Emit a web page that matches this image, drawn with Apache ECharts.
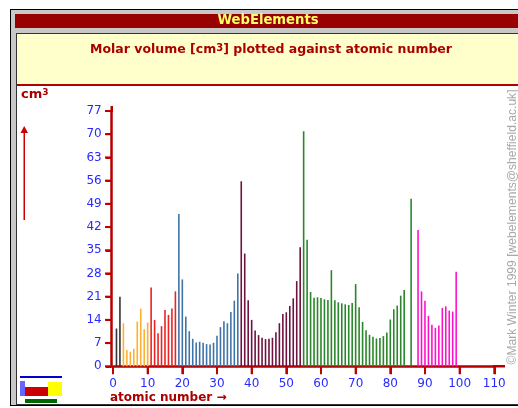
<!DOCTYPE html>
<html><head><meta charset="utf-8">
<style>html,body{margin:0;padding:0;background:#fff}#c{width:518px;height:408px}</style>
<script src="https://cdn.jsdelivr.net/npm/echarts@6/dist/echarts.min.js"></script>
</head><body><div id="c"></div>
<script>
const xTicks = [0,10,20,30,40,50,60,70,80,90,100,110];
const yTicks = [0,7,14,21,28,35,42,49,56,63,70,77];
const h_he = [11.4,21.0];
const period2 = [13.0,4.9,4.4,5.3,13.5,17.4,11.2,13.2];
const period3 = [23.8,14.0,10.0,12.1,17.0,15.5,17.4,22.6];
const period4 = [45.9,26.2,15.0,10.6,8.3,7.2,7.4,7.1,6.7,6.6,7.1,9.2,11.8,13.6,13.0,16.4,19.8,28.0];
const period5 = [55.8,34.0,19.9,14.0,10.8,9.4,8.6,8.2,8.3,8.6,10.3,13.0,15.8,16.3,18.2,20.5,25.7,35.9];
const period6 = [70.9,38.2,22.4,20.7,20.8,20.6,20.2,20.0,29.0,19.9,19.3,19.0,18.7,18.5,19.1,24.8,17.8,13.4,10.9,9.5,8.9,8.4,8.5,9.1,10.2,14.1,17.2,18.3,21.3,23.0,null,50.5];
const period7 = [null,41.1,22.6,19.8,15.2,12.5,11.6,12.3,17.6,18.1,16.8,16.5,28.5];
const groups = [
  {values:h_he,color:'#333333'},{values:period2,color:'#ffb030'},{values:period3,color:'#ee2222'},
  {values:period4,color:'#3f74a8'},{values:period5,color:'#6e1240'},{values:period6,color:'#2a862a'},{values:period7,color:'#ff11cc'}
];
const RED='#aa0000', BR='#b30000', BLUE='#2a2aff';
const data=[]; let z=1;
groups.forEach(g=>g.values.forEach(v=>{ if(v!==null) data.push({value:[z,v],itemStyle:{color:g.color}}); z++; }));
const chart=echarts.init(document.getElementById('c'),null,{renderer:'canvas'});
const rect=(x,y,w,h,fill,z2)=>({type:'rect',shape:{x,y,width:w,height:h},style:{fill},z:z2||0,silent:true});
const base=[
    rect(10,9,508,397,'#000000',-9),
    rect(11,10,507,395,'#c8c8c8',-8),
    rect(15,14,503,14,'#990000',-7),
    rect(16,33,502,372,'#333333',-7),
    rect(17,34,501,370,'#ffffff',-6),
    rect(17,34,501,50,'#ffffcc',-5),
    rect(17,84,501,2,'#b30000',-4),
    rect(110.5,106,2.5,6,BR,1),
    rect(493,365,12,2.5,BR,1),
    {type:'text',x:268,y:21,style:{text:'WebElements',fill:'#ffff66',font:'bold 13.2px "DejaVu Sans"',align:'center',verticalAlign:'middle'}},
    {type:'text',x:271,y:50,style:{text:'Molar volume [cm{s|3}] plotted against atomic number',fill:RED,font:'bold 12.5px "DejaVu Sans"',align:'center',verticalAlign:'middle',
      rich:{s:{fontSize:10,fontWeight:'bold',fontFamily:'DejaVu Sans',fill:RED,verticalAlign:'top',lineHeight:12}}}},
    {type:'text',x:21,y:95,style:{text:'cm{s|3}',fill:RED,font:'bold 13px "DejaVu Sans"',verticalAlign:'middle',
      rich:{s:{fontSize:9,fontWeight:'bold',fontFamily:'DejaVu Sans',fill:RED,verticalAlign:'top',lineHeight:12}}}},
    {type:'text',x:110,y:398,style:{text:'atomic number →',fill:RED,font:'bold 12px "DejaVu Sans"',verticalAlign:'middle'}},
    {type:'text',x:513,y:227,rotation:Math.PI/2,style:{text:'©Mark Winter 1999 [webelements@sheffield.ac.uk]',fill:'#a8a8a8',font:'12.1px "Liberation Sans"',align:'center',verticalAlign:'middle'}},
    rect(23.5,130,1.5,90,'#cc0000',1),
    {type:'polygon',shape:{points:[[24.2,126],[20.5,133],[28,133]]},style:{fill:'#cc0000'},silent:true},
    rect(20,376,42,2,'#0000cc',1),
    rect(20,381,5,15,'#6666ff',1),
    rect(25,387,23,9,'#cc0000',1),
    rect(48,382,14,14,'#ffff00',1),
    rect(25,399,32,4,'#006600',1)
];
chart.setOption({
  animation:false,backgroundColor:'#ffffff',
  grid:{left:113,right:23.7,top:111,bottom:41.7,containLabel:false},
  xAxis:{type:'value',min:xTicks[0],max:xTicks[xTicks.length-1],interval:10,
    axisLine:{onZero:false,lineStyle:{color:BR,width:2.5}},
    axisTick:{show:true,length:8,lineStyle:{color:'#c00000',width:2}},
    axisLabel:{color:BLUE,fontFamily:'DejaVu Sans',fontSize:12,margin:12},
    splitLine:{show:false}},
  yAxis:{type:'value',min:yTicks[0],max:yTicks[yTicks.length-1],interval:7,offset:1.3,
    axisLine:{show:true,onZero:false,lineStyle:{color:BR,width:2.5}},
    axisTick:{show:true,length:6,lineStyle:{color:'#c00000',width:2}},
    axisLabel:{color:BLUE,fontFamily:'DejaVu Sans',fontSize:12,margin:10},
    splitLine:{show:false}},
  series:[{type:'bar',data,barWidth:1.6,animation:false}],
  graphic:base
});
const tickMarks=[
  ...xTicks.map(v=>rect(chart.convertToPixel({xAxisIndex:0},v)-1,367,2,7,'#c00000',10)),
  ...yTicks.map(v=>rect(105,chart.convertToPixel({yAxisIndex:0},v)-1,6,2,'#c00000',10))
];
chart.setOption({graphic:base.concat(tickMarks)});
</script></body></html>
